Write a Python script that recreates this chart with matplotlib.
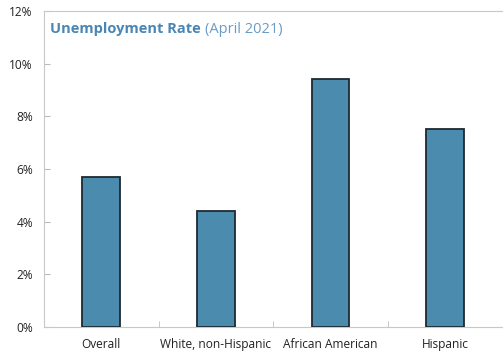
import numpy as np
import matplotlib.pyplot as plt
from matplotlib.ticker import FuncFormatter

categories = ['Overall', 'White, non-Hispanic', 'African American', 'Hispanic']
rates = [5.7, 4.4, 9.4, 7.5]
yticks = [0, 2, 4, 6, 8, 10, 12]

plt.rcParams['font.family'] = ['Open Sans', 'DejaVu Sans']

fig = plt.figure(figsize=(5.03, 3.55), dpi=100)
ax = fig.add_axes([0.0875, 0.079, 0.911, 0.89])

x = np.arange(len(categories))
ax.bar(x, rates, width=0.33, color='#4a8bae', edgecolor='#1e2a30', linewidth=1.3, zorder=3)

ax.set_xlim(-0.5, len(categories) - 0.5)
ax.set_ylim(0, 12)
ax.set_yticks(yticks)
ax.yaxis.set_major_formatter(FuncFormatter(lambda v, p: '%d%%' % v))
ax.set_xticks(x)
ax.set_xticklabels(categories)
ax.set_xticks(np.arange(0.5, len(categories) - 1, 1), minor=True)
ax.tick_params(axis='x', which='major', length=0, pad=8, labelsize=8.6, labelcolor='#222222')
ax.tick_params(axis='x', which='minor', length=4, direction='in', color='#bbbbbb')
ax.tick_params(axis='y', length=4, direction='in', color='#bbbbbb', pad=8, labelsize=8.6, labelcolor='#222222')

for s in ['left', 'bottom', 'top']:
    ax.spines[s].set_color('#c8c8c8')
ax.spines['right'].set_visible(False)

t1 = ax.text(0.013, 0.965, 'Unemployment Rate', transform=ax.transAxes, fontsize=10.5,
             fontweight='bold', color='#4a86b5', va='top', ha='left')
fig.canvas.draw()
bb = t1.get_window_extent().transformed(ax.transAxes.inverted())
ax.text(bb.x1 + 0.01, 0.965, '(April 2021)', transform=ax.transAxes, fontsize=10.5,
        color='#6a9cc6', va='top', ha='left')

fig.savefig('out.png', dpi=100)
